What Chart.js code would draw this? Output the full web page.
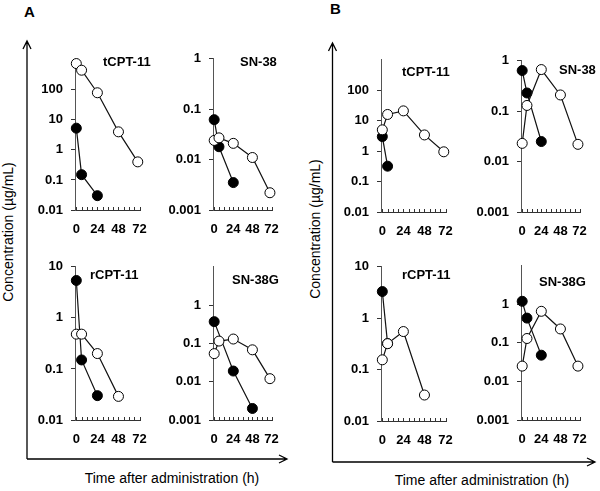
<!DOCTYPE html>
<html>
<head>
<meta charset="utf-8">
<script src="https://cdn.jsdelivr.net/npm/chart.js@4.4.1/dist/chart.umd.min.js"></script>
<style>
  body { margin: 0; background: #fff; }
  #fig { position: relative; width: 600px; height: 491px; overflow: hidden; font-family: "Liberation Sans", Arial, sans-serif; color: #000; }
  #fig canvas, #fig .txt, #fig svg { position: absolute; }
  .txt { white-space: nowrap; line-height: 16px; }
  .ttl { font-weight: bold; font-size: 13px; }
  .big { font-weight: bold; font-size: 15px; }
  .axl { font-size: 14px; transform: translate(-50%, -50%); }
</style>
</head>
<body>
<div id="fig">
  <svg width="600" height="491" style="left:0;top:0">
    <g stroke="#000" stroke-width="1.3" fill="none">
      <path d="M27 459 V41 M23 49 L27 41 L31 49 M27 459 H287 M279 455 L287 459 L279 463"/>
      <path d="M332.5 462 V43 M328.5 51 L332.5 43 L336.5 51 M332.5 462 H595 M587 458 L595 462 L587 466"/>
    </g>
  </svg>
  <div class="txt big" style="left:24px;top:4px">A</div>
  <div class="txt big" style="left:330px;top:1px">B</div>
  <div class="txt axl" style="left:8px;top:232px;transform:translate(-50%,-50%) rotate(-90deg)">Concentration (µg/mL)</div>
  <div class="txt axl" style="left:315px;top:229px;transform:translate(-50%,-50%) rotate(-90deg)">Concentration (µg/mL)</div>
  <div class="txt axl" style="left:172px;top:478px">Time after administration (h)</div>
  <div class="txt axl" style="left:482px;top:480px">Time after administration (h)</div>
</div>
<script>
// sampling times (h)
const hoursOpen = [0, 6, 24, 48, 70];
const hoursOpen4 = [0, 6, 24, 48];
const hoursFilled3 = [0, 6, 24];
const hoursFilled2 = [0, 6];
const hoursFilledG = [0, 24, 48];

// x axis: minor ticks every 6 h, labels every 24 h
const xMinorTicks = [0, 6, 12, 18, 24, 30, 36, 42, 48, 54, 60, 66, 72];
const xTickLabels = [0, 24, 48, 72];

// concentrations (µg/mL), open circles and filled circles
const aTcptOpen = [750, 450, 80, 4, 0.4];
const aTcptFilled = [5.3, 0.15, 0.03];
const aSn38Open = [0.024, 0.027, 0.021, 0.011, 0.0022];
const aSn38Filled = [0.062, 0.018, 0.0035];
const aRcptOpen = [0.48, 0.48, 0.2, 0.029];
const aRcptFilled = [5.4, 0.15, 0.03];
const aSn38gOpen = [0.054, 0.115, 0.13, 0.068, 0.012];
const aSn38gFilled = [0.37, 0.019, 0.002];

const bTcptOpen = [5, 16, 21, 3.4, 0.95];
const bTcptFilled = [3, 0.32];
const bSn38Open = [0.023, 0.13, 0.67, 0.21, 0.022];
const bSn38Filled = [0.64, 0.23, 0.025];
const bRcptOpen = [0.155, 0.32, 0.55, 0.032];
const bRcptFilled = [3.3, 0.32];
const bSn38gOpen = [0.025, 0.13, 0.66, 0.23, 0.025];
const bSn38gFilled = [1.2, 0.44, 0.048];

// y tick values for each kind of panel
const ticksTcpt = [0.01, 0.1, 1, 10, 100];
const ticksSn38 = [0.001, 0.01, 0.1, 1];
const ticksRcpt = [0.01, 0.1, 1, 10];
const ticksSn38g = [0.001, 0.01, 0.1, 1];

const panels = [
  { title: 'tCPT-11', tx: 103, ty: 54, box: [75, 56, 147, 210], y: [0.01, 1000], yt: ticksTcpt,
    open: [hoursOpen, aTcptOpen], filled: [hoursFilled3, aTcptFilled] },
  { title: 'SN-38', tx: 240, ty: 54, box: [213, 55, 279, 210], y: [0.001, 1], yt: ticksSn38,
    open: [hoursOpen, aSn38Open], filled: [hoursFilled3, aSn38Filled] },
  { title: 'rCPT-11', tx: 90, ty: 267, box: [75, 263, 147, 420], y: [0.01, 10], yt: ticksRcpt,
    open: [hoursOpen4, aRcptOpen], filled: [hoursFilled3, aRcptFilled] },
  { title: 'SN-38G', tx: 232, ty: 272, box: [213, 263, 279, 420], y: [0.001, 10], yt: ticksSn38g,
    open: [hoursOpen, aSn38gOpen], filled: [hoursFilledG, aSn38gFilled] },
  { title: 'tCPT-11', tx: 402, ty: 64, box: [381, 56, 453, 212], y: [0.01, 1000], yt: ticksTcpt,
    open: [hoursOpen, bTcptOpen], filled: [hoursFilled2, bTcptFilled] },
  { title: 'SN-38', tx: 559, ty: 62, box: [521, 57, 587, 212], y: [0.001, 1], yt: ticksSn38,
    open: [hoursOpen, bSn38Open], filled: [hoursFilled3, bSn38Filled] },
  { title: 'rCPT-11', tx: 402, ty: 267, box: [381, 263, 453, 421], y: [0.01, 10], yt: ticksRcpt,
    open: [hoursOpen4, bRcptOpen], filled: [hoursFilled2, bRcptFilled] },
  { title: 'SN-38G', tx: 539, ty: 274, box: [521, 262, 587, 420], y: [0.001, 10], yt: ticksSn38g,
    open: [hoursOpen, bSn38gOpen], filled: [hoursFilled3, bSn38gFilled] }
];

Chart.defaults.font.family = '"Liberation Sans", Arial, sans-serif';
Chart.defaults.font.size = 13;
Chart.defaults.font.weight = 'bold';
Chart.defaults.color = '#000';

// small upward tick marks on the time axis
const innerTicks = {
  id: 'innerTicks',
  beforeDatasetsDraw(chart) {
    const xs = chart.scales.x, ctx = chart.ctx, b = chart.chartArea.bottom;
    ctx.save();
    ctx.strokeStyle = '#333';
    ctx.lineWidth = 1;
    ctx.beginPath();
    xs.ticks.forEach(t => {
      const px = Math.round(xs.getPixelForValue(t.value)) + 0.5;
      ctx.moveTo(px, b);
      ctx.lineTo(px, b - 3);
    });
    ctx.stroke();
    ctx.restore();
  }
};

const fig = document.getElementById('fig');
const padL = 52, padT = 12, padR = 12, padB = 34;

function toPoints(xs, ys) {
  return xs.map((x, i) => ({ x: x, y: ys[i] }));
}

function makePanel(p) {
  const [l, t, r, b] = p.box;
  const cv = document.createElement('canvas');
  cv.width = r - l + padL + padR;
  cv.height = b - t + padT + padB;
  cv.style.left = (l - padL) + 'px';
  cv.style.top = (t - padT) + 'px';
  fig.appendChild(cv);

  const ttl = document.createElement('div');
  ttl.className = 'txt ttl';
  ttl.style.left = p.tx + 'px';
  ttl.style.top = p.ty + 'px';
  ttl.textContent = p.title;
  fig.appendChild(ttl);

  new Chart(cv, {
    type: 'line',
    data: {
      datasets: [
        {
          data: toPoints(p.open[0], p.open[1]),
          borderColor: '#111', borderWidth: 1.2,
          pointRadius: 5, pointBorderWidth: 1, pointBorderColor: '#000', pointBackgroundColor: '#fff',
          clip: false
        },
        {
          data: toPoints(p.filled[0], p.filled[1]),
          borderColor: '#111', borderWidth: 1.2,
          pointRadius: 5, pointBorderWidth: 1, pointBorderColor: '#000', pointBackgroundColor: '#000',
          clip: false
        }
      ]
    },
    options: {
      responsive: false,
      animation: false,
      layout: { padding: { left: 0, top: padT, right: padR, bottom: 0 }, autoPadding: false },
      plugins: { legend: { display: false }, tooltip: { enabled: false } },
      scales: {
        x: {
          type: 'linear', min: -1.5, max: 73.5,
          afterBuildTicks: s => { s.ticks = xMinorTicks.map(v => ({ value: v })); },
          afterFit: s => { s.height = padB; },
          grid: { display: false, drawTicks: false },
          border: { display: true, color: '#333', width: 1 },
          ticks: {
            autoSkip: false, maxRotation: 0, padding: 12,
            callback: v => xTickLabels.includes(v) ? String(v) : ''
          }
        },
        y: {
          type: 'logarithmic', min: p.y[0], max: p.y[1],
          afterBuildTicks: s => { s.ticks = p.yt.map(v => ({ value: v })); },
          afterFit: s => { s.width = padL; },
          grid: { drawOnChartArea: false, drawTicks: true, tickLength: 4, color: '#333' },
          border: { display: true, color: '#555', width: 1 },
          ticks: { padding: 8, callback: v => String(v) }
        }
      }
    },
    plugins: [innerTicks]
  });
}

panels.forEach(makePanel);
</script>
</body>
</html>
